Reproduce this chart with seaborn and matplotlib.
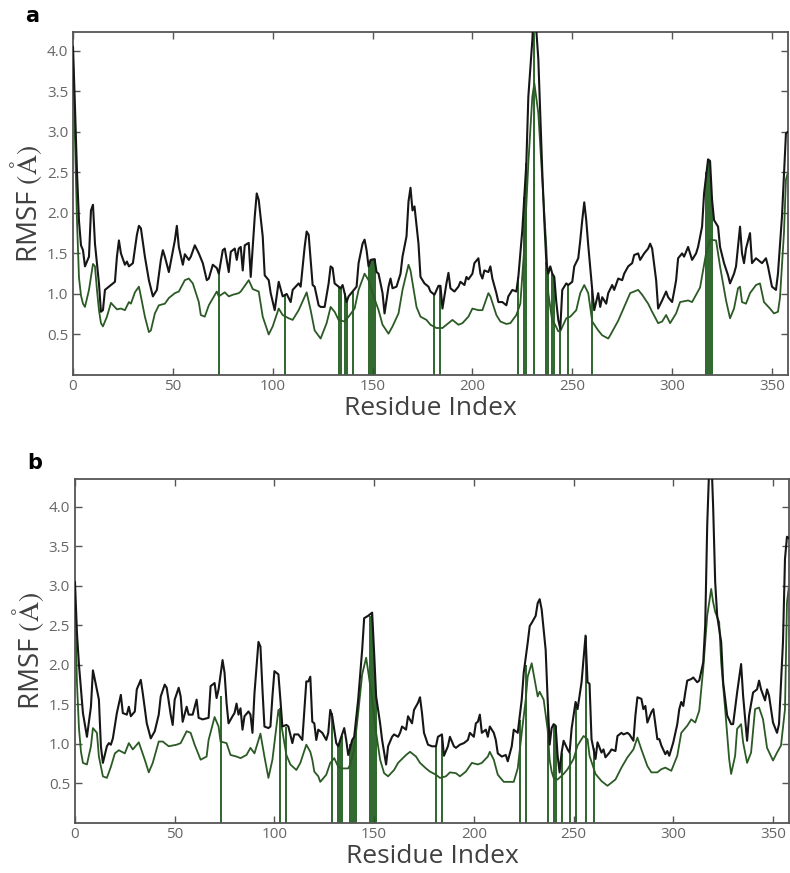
import numpy as np
import pandas as pd
import matplotlib
matplotlib.use("Agg")
import matplotlib.pyplot as plt
import seaborn as sns

# RMSF per residue as (residue, RMSF) pairs

a_black = [(0, 4.05), (1, 3.3), (2, 2.5), (3, 1.9), (4, 1.6), (5, 1.54), (6, 1.34), (8, 1.46), (9, 2.03),
           (10, 2.1), (11, 1.62), (13, 1.13), (14, 0.78), (15, 0.80), (16, 1.05), (18, 1.09), (21, 1.15),
           (22, 1.46), (23, 1.66), (24, 1.5), (26, 1.36), (27, 1.40), (28, 1.34), (30, 1.38), (32, 1.73),
           (33, 1.84), (34, 1.81), (36, 1.46), (38, 1.17), (40, 0.97), (42, 1.05), (44, 1.42), (45, 1.54),
           (46, 1.46), (48, 1.27), (49, 1.40), (51, 1.66), (52, 1.84), (53, 1.58), (55, 1.36), (56, 1.49),
           (58, 1.42), (59, 1.46), (61, 1.60), (63, 1.50), (65, 1.38), (67, 1.17), (68, 1.19), (70, 1.36),
           (72, 1.32), (73, 1.25), (75, 1.54), (76, 1.56), (78, 1.27), (79, 1.52), (81, 1.56), (82, 1.42),
           (83, 1.56), (84, 1.58), (85, 1.29), (86, 1.60), (88, 1.63), (89, 1.21), (91, 1.95), (92, 2.24),
           (93, 2.16), (95, 1.71), (96, 1.23), (98, 1.17), (99, 1.01), (101, 0.80), (103, 1.15), (105, 0.97),
           (107, 1.0), (109, 0.90), (110, 1.05), (113, 1.13), (114, 1.09), (116, 1.58), (117, 1.77),
           (118, 1.73), (119, 1.42), (120, 1.11), (121, 1.09), (123, 0.86), (124, 0.84), (126, 0.84),
           (128, 1.13), (129, 1.34), (130, 1.32), (131, 1.13), (133, 1.09), (134, 1.07), (135, 1.11),
           (136, 1.01), (137, 0.90), (138, 0.97), (140, 1.03), (142, 1.09), (143, 1.38), (145, 1.62),
           (146, 1.67), (147, 1.54), (148, 1.34), (149, 1.42), (151, 1.43), (152, 1.27), (153, 1.25),
           (155, 1.01), (156, 0.76), (158, 1.09), (159, 1.19), (160, 1.07), (162, 1.09), (164, 1.25),
           (165, 1.46), (167, 1.71), (168, 2.14), (169, 2.31), (170, 2.03), (171, 2.08), (173, 1.62),
           (174, 1.21), (176, 1.13), (178, 1.09), (179, 1.03), (181, 0.99), (183, 1.10), (184, 1.10),
           (185, 0.82), (187, 1.13), (188, 1.26), (189, 1.07), (191, 1.03), (193, 1.09), (194, 1.15),
           (196, 1.11), (197, 1.21), (198, 1.18), (200, 1.25), (201, 1.38), (203, 1.44), (204, 1.25),
           (205, 1.19), (206, 1.29), (208, 1.27), (209, 1.34), (210, 1.19), (212, 1.01), (213, 0.90),
           (215, 0.90), (217, 0.86), (218, 0.97), (220, 1.05), (222, 1.03), (223, 1.21), (225, 1.79),
           (227, 2.61), (228, 3.43), (230, 4.13), (231, 4.6), (233, 3.9), (235, 2.5), (236, 1.9),
           (237, 1.4), (238, 1.25), (239, 1.34), (240, 1.25), (241, 1.21), (242, 0.9), (243, 0.68),
           (244, 0.57), (245, 1.05), (247, 1.13), (248, 1.11), (250, 1.15), (251, 1.34), (253, 1.44),
           (254, 1.66), (255, 1.91), (256, 2.13), (257, 1.91), (258, 1.60), (260, 1.05), (261, 0.80),
           (263, 1.01), (264, 0.84), (265, 0.96), (267, 0.88), (268, 1.01), (270, 1.11), (271, 1.05),
           (273, 1.19), (275, 1.17), (276, 1.25), (278, 1.34), (280, 1.38), (281, 1.48), (283, 1.50),
           (284, 1.42), (286, 1.50), (288, 1.56), (289, 1.62), (290, 1.56), (292, 1.17), (293, 0.82),
           (295, 0.92), (297, 1.03), (298, 0.96), (300, 0.90), (301, 1.03), (302, 1.17), (303, 1.44),
           (305, 1.50), (306, 1.46), (308, 1.58), (309, 1.50), (310, 1.42), (312, 1.50), (313, 1.58),
           (315, 1.83), (316, 2.24), (318, 2.66), (319, 2.64), (320, 2.16), (321, 1.91), (323, 1.83),
           (324, 1.58), (326, 1.38), (328, 1.23), (329, 1.13), (331, 1.25), (332, 1.34), (334, 1.83),
           (335, 1.50), (336, 1.38), (337, 1.56), (339, 1.75), (340, 1.38), (342, 1.44), (343, 1.42),
           (345, 1.38), (347, 1.44), (348, 1.34), (350, 1.09), (352, 1.05), (353, 1.25), (355, 1.95),
           (357, 2.98), (358, 3.0)]

a_green = [(0, 3.9), (1, 2.9), (2, 1.9), (3, 1.2), (4, 0.98), (5, 0.88), (6, 0.84), (8, 1.05), (10, 1.37),
           (11, 1.34), (12, 1.05), (13, 0.8), (14, 0.64), (15, 0.60), (17, 0.72), (19, 0.89), (22, 0.81),
           (24, 0.82), (26, 0.80), (28, 0.90), (29, 0.88), (31, 1.02), (33, 1.09), (34, 0.97), (36, 0.72),
           (38, 0.53), (39, 0.55), (41, 0.76), (43, 0.86), (46, 0.88), (48, 0.95), (51, 1.01), (53, 1.03),
           (56, 1.17), (58, 1.19), (60, 1.13), (63, 0.90), (64, 0.74), (66, 0.72), (68, 0.86), (72, 1.03),
           (73, 0.97), (76, 1.02), (78, 0.97), (80, 0.99), (83, 1.01), (84, 1.03), (88, 1.17), (90, 1.06),
           (93, 1.03), (95, 0.72), (98, 0.50), (100, 0.60), (103, 0.82), (105, 0.74), (108, 0.70),
           (110, 0.68), (113, 0.80), (117, 1.02), (119, 0.8), (121, 0.55), (124, 0.45), (127, 0.64),
           (129, 0.84), (131, 0.78), (133, 0.68), (136, 0.66), (138, 0.72), (141, 0.82), (143, 1.05),
           (146, 1.25), (148, 1.17), (150, 1.01), (153, 0.80), (155, 0.62), (158, 0.51), (160, 0.60),
           (163, 0.76), (165, 1.05), (168, 1.36), (169, 1.29), (172, 0.84), (174, 0.72), (177, 0.68),
           (179, 0.62), (182, 0.58), (185, 0.58), (188, 0.64), (190, 0.68), (193, 0.62), (195, 0.64),
           (198, 0.72), (200, 0.82), (203, 0.80), (205, 0.80), (208, 1.01), (209, 0.97), (212, 0.74),
           (214, 0.66), (217, 0.63), (219, 0.64), (222, 0.74), (224, 0.88), (226, 1.58), (228, 2.61),
           (230, 3.43), (231, 3.60), (233, 3.23), (235, 2.40), (237, 1.58), (238, 1.01), (240, 0.66),
           (241, 0.64), (243, 0.54), (244, 0.54), (247, 0.70), (249, 0.72), (252, 0.80), (254, 1.01),
           (256, 1.11), (258, 1.01), (260, 0.66), (263, 0.55), (265, 0.49), (268, 0.45), (269, 0.49),
           (273, 0.67), (276, 0.84), (279, 1.01), (283, 1.05), (285, 0.99), (288, 0.88), (290, 0.78),
           (293, 0.64), (295, 0.66), (297, 0.74), (299, 0.64), (302, 0.76), (304, 0.90), (308, 0.92),
           (310, 0.90), (314, 1.08), (317, 1.50), (319, 1.67), (322, 1.66), (324, 1.34), (327, 0.92),
           (329, 0.70), (331, 0.82), (333, 1.07), (334, 1.09), (335, 0.90), (337, 0.88), (339, 1.01),
           (342, 1.11), (344, 1.13), (346, 0.90), (349, 0.82), (351, 0.76), (353, 0.78), (354, 0.95),
           (356, 1.75), (357, 2.41), (358, 2.5)]

b_black = [(0, 3.05), (1, 2.4), (2, 2.0), (3, 1.7), (4, 1.39), (6, 1.09), (8, 1.47), (9, 1.93), (10, 1.81),
           (12, 1.56), (13, 0.97), (14, 0.76), (16, 0.97), (17, 1.01), (18, 0.99), (19, 1.07), (21, 1.39),
           (23, 1.62), (24, 1.39), (26, 1.37), (27, 1.47), (28, 1.35), (30, 1.41), (31, 1.69), (33, 1.81),
           (34, 1.64), (36, 1.26), (38, 1.07), (40, 1.16), (42, 1.37), (43, 1.60), (45, 1.75), (46, 1.71),
           (48, 1.37), (49, 1.24), (50, 1.56), (52, 1.71), (53, 1.60), (54, 1.28), (56, 1.47), (57, 1.37),
           (59, 1.37), (61, 1.56), (62, 1.33), (64, 1.31), (67, 1.33), (68, 1.73), (70, 1.77), (71, 1.58),
           (72, 1.69), (74, 2.06), (75, 1.90), (76, 1.52), (77, 1.26), (79, 1.35), (80, 1.39), (81, 1.51),
           (82, 1.37), (83, 1.45), (84, 1.18), (85, 1.35), (87, 1.41), (88, 1.37), (89, 1.14), (90, 1.64),
           (92, 2.29), (93, 2.23), (94, 1.69), (95, 1.22), (97, 1.20), (98, 1.22), (99, 1.60), (100, 1.92),
           (102, 1.88), (103, 1.56), (104, 1.22), (106, 1.24), (107, 1.22), (109, 1.01), (110, 1.12),
           (112, 1.12), (114, 1.05), (116, 1.79), (117, 1.79), (118, 1.85), (119, 1.28), (120, 1.26),
           (121, 1.05), (122, 1.18), (124, 1.14), (126, 1.05), (127, 1.14), (128, 1.43), (129, 1.35),
           (131, 1.01), (132, 0.97), (133, 1.05), (135, 1.20), (136, 1.05), (137, 0.86), (139, 1.05),
           (140, 1.09), (142, 1.56), (144, 2.19), (145, 2.59), (147, 2.62), (149, 2.66), (150, 2.15),
           (151, 1.60), (153, 1.26), (154, 1.05), (156, 0.74), (157, 0.97), (159, 1.09), (160, 1.12),
           (162, 1.09), (163, 1.14), (164, 1.22), (166, 1.18), (167, 1.35), (169, 1.26), (170, 1.43),
           (172, 1.52), (173, 1.59), (174, 1.39), (175, 1.14), (177, 0.99), (179, 0.97), (181, 0.97),
           (182, 1.09), (184, 1.12), (185, 0.85), (187, 0.97), (188, 1.09), (190, 0.97), (191, 0.95),
           (193, 0.99), (195, 1.01), (197, 1.05), (198, 1.14), (200, 1.09), (201, 1.26), (202, 1.28),
           (203, 1.37), (204, 1.14), (206, 1.18), (207, 1.09), (208, 1.22), (210, 1.14), (211, 1.05),
           (212, 0.88), (214, 0.84), (216, 0.86), (217, 0.78), (219, 0.97), (220, 1.18), (222, 1.14),
           (224, 1.56), (225, 1.90), (227, 2.28), (228, 2.49), (229, 2.53), (231, 2.62), (232, 2.78),
           (233, 2.83), (234, 2.70), (236, 2.19), (237, 1.56), (238, 0.99), (239, 1.2), (240, 1.25),
           (241, 1.23), (242, 0.85), (243, 0.64), (244, 0.89), (245, 1.04), (247, 0.93), (248, 0.89),
           (249, 1.19), (251, 1.53), (252, 1.44), (254, 1.78), (256, 2.37), (257, 1.78), (258, 1.76),
           (259, 1.06), (261, 0.81), (262, 1.02), (264, 0.89), (265, 0.93), (266, 0.83), (268, 0.89),
           (269, 0.93), (271, 0.91), (272, 1.10), (274, 1.14), (275, 1.12), (277, 1.14), (278, 1.12),
           (280, 1.04), (281, 1.36), (282, 1.59), (284, 1.57), (285, 1.44), (286, 1.48), (287, 1.27),
           (289, 1.40), (290, 1.44), (292, 1.06), (293, 1.06), (294, 0.98), (296, 0.87), (297, 0.91),
           (298, 0.85), (300, 1.02), (302, 1.25), (303, 1.44), (304, 1.53), (305, 1.48), (306, 1.65),
           (307, 1.80), (309, 1.82), (310, 1.84), (312, 1.78), (313, 1.80), (315, 2.03), (316, 2.50),
           (317, 3.76), (318, 4.5), (319, 4.7), (320, 3.98), (321, 3.05), (322, 2.62), (324, 2.29),
           (325, 1.78), (327, 1.36), (329, 1.25), (330, 1.25), (332, 1.65), (334, 2.01), (335, 1.61),
           (337, 1.04), (338, 1.36), (340, 1.65), (342, 1.69), (343, 1.80), (344, 1.69), (346, 1.55),
           (347, 1.69), (348, 1.61), (350, 1.27), (352, 1.14), (353, 1.25), (355, 2.29), (356, 3.34),
           (357, 3.62), (358, 3.6)]

b_green = [(0, 2.8), (1, 1.77), (2, 1.2), (3, 0.9), (4, 0.76), (6, 0.74), (8, 0.97), (9, 1.20), (11, 1.14),
           (12, 0.84), (14, 0.59), (16, 0.57), (18, 0.71), (20, 0.88), (22, 0.92), (25, 0.88), (27, 1.01),
           (29, 0.93), (32, 1.02), (35, 0.80), (37, 0.64), (39, 0.76), (42, 1.03), (44, 1.03), (47, 0.97),
           (51, 0.99), (53, 1.01), (56, 1.16), (58, 1.14), (60, 0.99), (63, 0.80), (66, 0.84), (67, 1.05),
           (70, 1.34), (72, 1.22), (73, 1.03), (76, 1.01), (78, 0.86), (81, 0.84), (83, 0.82), (86, 0.86),
           (88, 0.95), (90, 0.88), (93, 1.13), (95, 0.84), (97, 0.57), (99, 0.80), (102, 1.43), (103, 1.31),
           (106, 0.86), (108, 0.74), (111, 0.67), (113, 0.76), (116, 0.99), (118, 0.90), (119, 0.80),
           (120, 0.65), (122, 0.59), (123, 0.52), (126, 0.61), (128, 0.76), (130, 0.82), (132, 0.71),
           (134, 0.69), (137, 0.69), (138, 0.74), (140, 0.93), (142, 1.39), (144, 1.88), (146, 2.09),
           (147, 1.92), (149, 1.56), (151, 1.14), (153, 0.80), (155, 0.63), (157, 0.59), (160, 0.67),
           (162, 0.76), (166, 0.86), (168, 0.90), (171, 0.84), (173, 0.76), (176, 0.69), (178, 0.65),
           (181, 0.61), (183, 0.57), (186, 0.59), (188, 0.64), (191, 0.63), (193, 0.59), (196, 0.65),
           (199, 0.76), (202, 0.74), (204, 0.76), (207, 0.84), (208, 0.90), (210, 0.80), (212, 0.61),
           (215, 0.52), (218, 0.52), (220, 0.52), (222, 0.69), (224, 1.14), (226, 1.56), (227, 1.85),
           (229, 2.02), (230, 1.88), (232, 1.60), (233, 1.66), (235, 1.56), (237, 1.18), (238, 0.80),
           (239, 0.65), (240, 0.57), (242, 0.55), (245, 0.62), (247, 0.68), (250, 0.81), (252, 0.98),
           (255, 1.10), (257, 1.06), (258, 0.85), (261, 0.62), (264, 0.53), (267, 0.47), (271, 0.55),
           (274, 0.70), (277, 0.83), (280, 0.93), (282, 1.08), (284, 0.93), (287, 0.72), (289, 0.64),
           (292, 0.64), (294, 0.68), (296, 0.70), (299, 0.66), (302, 0.85), (304, 1.14), (307, 1.23),
           (309, 1.31), (311, 1.27), (313, 1.42), (315, 1.95), (317, 2.62), (319, 2.96), (320, 2.79),
           (321, 2.67), (323, 2.54), (324, 2.03), (326, 1.44), (328, 0.81), (329, 0.62), (331, 0.85),
           (332, 1.19), (334, 1.25), (335, 1.02), (337, 0.76), (339, 0.89), (341, 1.44), (343, 1.46),
           (345, 1.31), (347, 0.95), (350, 0.79), (352, 0.89), (354, 0.98), (356, 1.44), (357, 2.79),
           (358, 3.0)]

# highlighted residues (green bars up to the RMSF value)
a_marks = [(73, 1.27), (106, 1.0), (133, 1.09), (134, 1.07), (136, 1.01), (137, 0.95), (140, 1.03),
           (148, 1.34), (149, 1.42), (150, 1.43), (151, 1.43), (181, 0.99), (184, 1.10), (223, 1.21),
           (226, 2.2), (227, 2.61), (231, 4.6), (237, 1.4), (238, 1.25), (240, 1.25), (241, 1.21),
           (244, 0.6), (248, 1.11), (260, 1.05), (317, 2.5), (318, 2.66), (319, 2.64), (320, 2.2)]
b_marks = [(73, 1.6), (103, 1.45), (106, 1.22), (129, 1.39), (132, 0.97), (133, 1.05), (134, 1.1),
           (138, 1.0), (139, 1.05), (140, 1.09), (141, 1.2), (148, 2.62), (149, 2.66), (150, 2.15),
           (151, 1.6), (181, 0.97), (184, 1.12), (223, 1.3), (226, 2.0), (237, 1.5), (240, 1.25),
           (241, 1.23), (244, 0.89), (248, 0.89), (251, 1.53), (256, 2.37), (260, 0.95)]

x_ticks = [0, 50, 100, 150, 200, 250, 300, 350]
y_ticks = [0.5, 1.0, 1.5, 2.0, 2.5, 3.0, 3.5, 4.0]

BLACK = "#161616"
GREEN = "#2b5a25"
BAR = "#1c5a1c"
AXC = "#555555"

sns.set_style("ticks")
plt.rcParams["font.family"] = ["Open Sans", "DejaVu Sans"]
plt.rcParams["mathtext.fontset"] = "stix"


def to_df(pairs):
    return pd.DataFrame(pairs, columns=["residue", "rmsf"])


def panel(ax, black, green, marks, ytop, letter):
    m = to_df(marks)
    ax.vlines(m["residue"], 0, m["rmsf"], color=BAR, lw=1.3, zorder=1)
    sns.lineplot(data=to_df(green), x="residue", y="rmsf", ax=ax, color=GREEN, lw=1.3,
                 estimator=None, zorder=2)
    sns.lineplot(data=to_df(black), x="residue", y="rmsf", ax=ax, color=BLACK, lw=1.5,
                 estimator=None, zorder=3)
    ax.set_xlim(0, 358)
    ax.set_ylim(0, ytop)
    ax.set_xticks(x_ticks)
    ax.set_yticks(y_ticks)
    ax.set_yticklabels([f"{v:.1f}" for v in y_ticks])
    ax.tick_params(axis="x", pad=3)
    ax.tick_params(direction="in", top=True, right=True, length=5, width=1,
                   color=AXC, labelcolor="#666666", labelsize=11)
    for s in ax.spines.values():
        s.set_color(AXC)
        s.set_linewidth(1.3)
    ax.set_xlabel("Residue Index", fontsize=19, color="#404040", labelpad=1)
    ax.set_ylabel(r"RMSF $(\mathrm{\AA})$", fontsize=20, color="#404040", labelpad=2)
    ax.text(-0.067, 1.03, letter, transform=ax.transAxes, fontsize=15, fontweight="bold",
            color="black", family="DejaVu Sans")


fig = plt.figure(figsize=(7.9, 8.73), dpi=100)
ax1 = fig.add_axes([0.0924, 0.5704, 0.905, 0.3929])
ax2 = fig.add_axes([0.0949, 0.0573, 0.9038, 0.3940])

panel(ax1, a_black, a_green, a_marks, 4.23, "a")
panel(ax2, b_black, b_green, b_marks, 4.35, "b")

fig.savefig("out.png", dpi=100)
